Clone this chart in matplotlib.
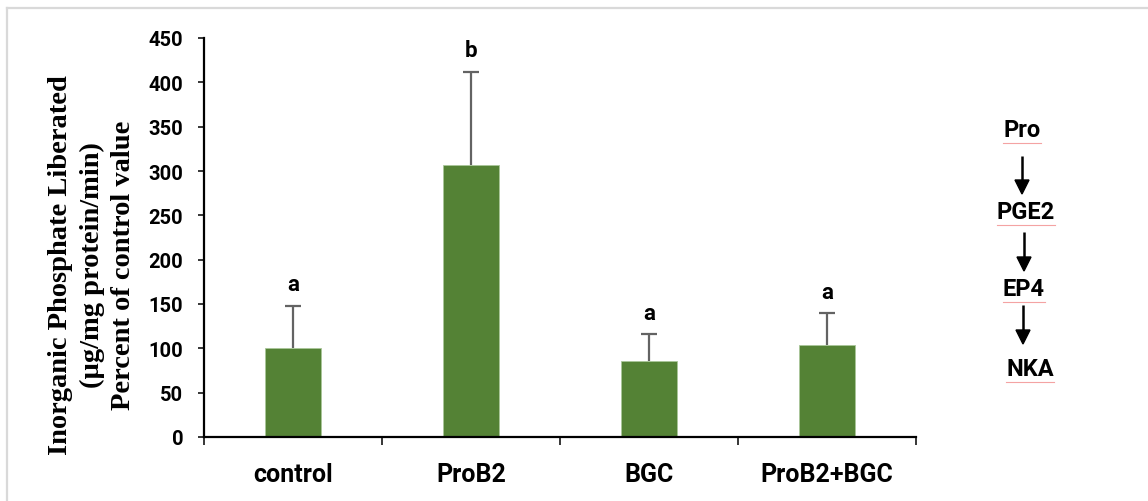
import matplotlib
matplotlib.use("Agg")
import matplotlib.pyplot as plt
from matplotlib.patches import Polygon

groups = ["control", "ProB2", "BGC", "ProB2+BGC"]
means = [100, 307, 86, 104]
sem = [48, 105, 30, 36]
letters = ["a", "b", "a", "a"]
pathway = ["Pro", "PGE2", "EP4", "NKA"]

GREEN = "#548235"
sans = ["Roboto", "DejaVu Sans"]
serif = ["Liberation Serif", "DejaVu Serif"]

W, H = 1148, 502
fig = plt.figure(figsize=(W / 100, H / 100), dpi=100)
ax = fig.add_axes([204 / W, 1 - 438 / H, (916 - 204) / W, (438 - 39) / H])

# bars with upward-only error bars
x = list(range(len(groups)))
tops = [m + e for m, e in zip(means, sem)]
ax.bar(x, means, width=0.31, color=GREEN, edgecolor="#a9c79a", linewidth=0.6, zorder=2)
ax.vlines(x, means, tops, color="#636363", lw=1.6, zorder=3)
ax.plot(x, tops, ls="none", marker="_", ms=12, mew=1.6, color="#636363", zorder=3)

for xi, t, lab in zip(x, tops, letters):
    ax.annotate(lab, (xi, t), xytext=(0, 11), textcoords="offset points",
                ha="center", va="baseline", fontsize=16, fontweight="bold",
                family=sans)

ax.set_xlim(-0.5, len(groups) - 0.5)
ax.set_ylim(0, 450)
ax.set_yticks(range(0, 451, 50))
ax.set_xticks(x)
ax.set_xticklabels(groups, fontsize=18, fontweight="bold", family=sans)
ax.set_xticks([i - 0.5 for i in range(len(groups) + 1)], minor=True)
ax.tick_params(axis="x", which="major", length=0, pad=18)
ax.tick_params(axis="x", which="minor", direction="out", length=6, width=1.1)
ax.tick_params(axis="y", direction="out", length=4, width=1.1, pad=11, labelsize=14.5)
for t in ax.get_yticklabels():
    t.set_fontweight("bold")
    t.set_family(sans)

for s in ("top", "right"):
    ax.spines[s].set_visible(False)
for s in ("left", "bottom"):
    ax.spines[s].set_linewidth(1.6)

fig.text(92 / W, 1 - 265 / H,
         "Inorganic Phosphate Liberated\n(\u00b5g/mg protein/min)\nPercent of control value",
         rotation=90, ha="center", va="center", multialignment="center",
         fontsize=20.5, fontweight="bold", family=serif, linespacing=1.32)

# overlay in pixel units for the pathway sketch and frame
ov = fig.add_axes([0, 0, 1, 1], zorder=5)
ov.set_xlim(0, W)
ov.set_ylim(H, 0)
ov.axis("off")
ov.patch.set_alpha(0)

word_pos = [(1022, 131), (1026, 213), (1024, 290), (1030, 370)]
fig.canvas.draw()
for (px, py), w in zip(word_pos, pathway):
    t = ov.text(px, py, w, ha="center", va="center", fontsize=17,
                fontweight="bold", family=sans)
    bb = t.get_window_extent(renderer=fig.canvas.get_renderer())
    ov.plot([bb.x0, bb.x1], [py + 13, py + 13], color="#f4a3a3", lw=0.8)

arrows = [(1022, 157, 195), (1024, 233, 272), (1023, 306, 345)]
for axx, y0, y1 in arrows:
    ov.plot([axx, axx], [y0, y1 - 12], color="black", lw=1.8, solid_capstyle="butt")
    ov.add_patch(Polygon([(axx - 7, y1 - 14), (axx + 7, y1 - 14), (axx, y1)],
                         closed=True, color="black"))

# light frame along the top and left edges
ov.plot([7, W], [9, 9], color="#d9d9d9", lw=1.6)
ov.plot([7, 7], [9, H], color="#d9d9d9", lw=1.6)

fig.savefig("out.png", dpi=100)
